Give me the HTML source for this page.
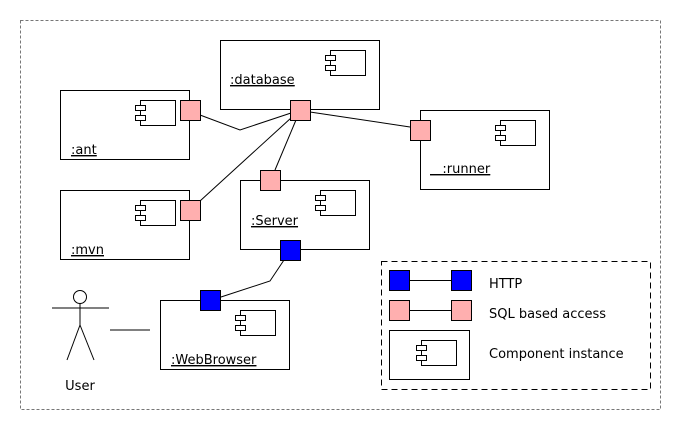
<!DOCTYPE html>
<html><head><meta charset="utf-8"><style>
html,body{margin:0;padding:0;background:#fff;}
svg{display:block;}
text{font-family:"DejaVu Sans","Liberation Sans",sans-serif;font-size:13px;fill:#000;}
</style></head><body>
<svg width="680" height="430" viewBox="0 0 680 430" xmlns="http://www.w3.org/2000/svg">
<defs>
<g id="ic"><rect x="5" y="0" width="35" height="25" fill="#fff" stroke="#000" stroke-width="1"/><rect x="0" y="5" width="10" height="5" fill="#fff" stroke="#000"/><rect x="0" y="15" width="10" height="5" fill="#fff" stroke="#000"/></g>
</defs>
<rect x="20.5" y="20.5" width="640" height="389" fill="none" stroke="#777" stroke-dasharray="3,2"/>
<g stroke="#000" fill="none" stroke-width="1">
<polyline points="200,115 240,130 291,113"/>
<line x1="200" y1="201" x2="291" y2="118"/>
<line x1="275" y1="170" x2="296" y2="120"/>
<line x1="310" y1="112" x2="410" y2="127"/>
<polyline points="221,297 270,281 284,260"/>
<line x1="110" y1="330" x2="150" y2="330"/>
</g>
<g fill="#fff" stroke="#000">
<rect x="220.5" y="40.5" width="159" height="69"/>
<rect x="60.5" y="90.5" width="129" height="69"/>
<rect x="60.5" y="190.5" width="129" height="69"/>
<rect x="240.5" y="180.5" width="129" height="69"/>
<rect x="420.5" y="110.5" width="129" height="79"/>
<rect x="160.5" y="300.5" width="129" height="69"/>
</g>
<use href="#ic" x="325.5" y="50.5"/>
<use href="#ic" x="135.5" y="100.5"/>
<use href="#ic" x="135.5" y="200.5"/>
<use href="#ic" x="315.5" y="190.5"/>
<use href="#ic" x="495.5" y="120.5"/>
<use href="#ic" x="235.5" y="310.5"/>
<g stroke="#000" fill="#ffafaf">
<rect x="290.5" y="100.5" width="20" height="20"/>
<rect x="180.5" y="100.5" width="20" height="20"/>
<rect x="180.5" y="200.5" width="20" height="20"/>
<rect x="260.5" y="170.5" width="20" height="20"/>
<rect x="410.5" y="120.5" width="20" height="20"/>
</g>
<g stroke="#000" fill="#0000ff">
<rect x="280.5" y="240.5" width="20" height="20"/>
<rect x="200.5" y="290.5" width="20" height="20"/>
</g>
<g text-decoration="underline">
<text x="230" y="84" text-decoration="underline">:database</text>
<text x="71" y="154" text-decoration="underline">:ant</text>
<text x="71" y="254" text-decoration="underline">:mvn</text>
<text x="251" y="225" text-decoration="underline">:Server</text>
<text x="430" y="173" text-decoration="underline" xml:space="preserve">   :runner</text>
<text x="171" y="364" text-decoration="underline">:WebBrowser</text>
</g>
<g stroke="#000" fill="none">
<circle cx="80" cy="297" r="6.5" fill="#fff"/>
<line x1="52" y1="308" x2="109" y2="308"/>
<line x1="80" y1="303.5" x2="80" y2="325"/>
<line x1="80" y1="325" x2="67" y2="360"/>
<line x1="80" y1="325" x2="94" y2="360"/>
</g>
<text x="80" y="390" text-anchor="middle">User</text>
<rect x="381.5" y="261.5" width="269" height="128" fill="none" stroke="#000" stroke-dasharray="6,4"/>
<line x1="410" y1="280.5" x2="451" y2="280.5" stroke="#000"/>
<line x1="410" y1="310.5" x2="451" y2="310.5" stroke="#000"/>
<rect x="389.5" y="270.5" width="20" height="20" fill="#0000ff" stroke="#000"/>
<rect x="451.5" y="270.5" width="20" height="20" fill="#0000ff" stroke="#000"/>
<rect x="389.5" y="300.5" width="20" height="20" fill="#ffafaf" stroke="#000"/>
<rect x="451.5" y="300.5" width="20" height="20" fill="#ffafaf" stroke="#000"/>
<rect x="389.5" y="330.5" width="80" height="49" fill="#fff" stroke="#000"/>
<use href="#ic" x="416.5" y="340.5"/>
<text x="489" y="288">HTTP</text>
<text x="489" y="318">SQL based access</text>
<text x="489" y="358">Component instance</text>
</svg>
</body></html>
